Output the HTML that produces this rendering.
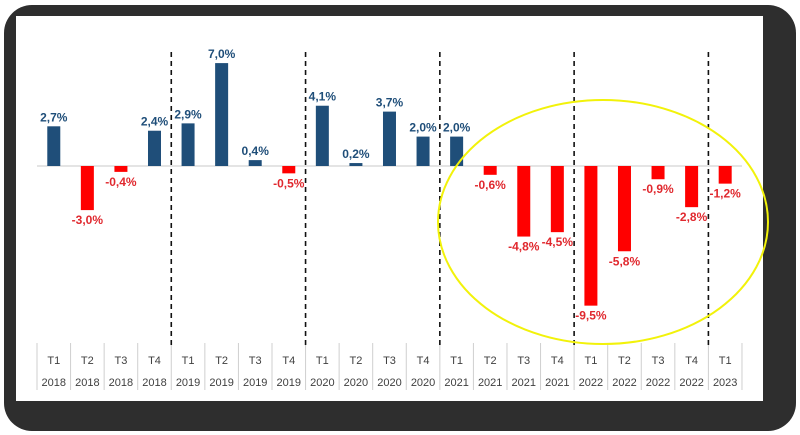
<!DOCTYPE html>
<html><head><meta charset="utf-8"><style>
html,body{margin:0;padding:0;background:#fff;}
svg{display:block;font-family:"Liberation Sans","DejaVu Sans",sans-serif;}
</style></head><body>
<svg id="chart" width="800" height="435" viewBox="0 0 800 435">
  <rect x="4" y="5" width="792" height="426" rx="28" fill="#2e2e2e"/>
  <rect x="16" y="16" width="747" height="385" fill="#ffffff"/>
  <g id="marks"></g>
  <ellipse cx="603" cy="222" rx="165" ry="122" fill="none" stroke="#f2f20a" stroke-width="2"/>
</svg>
<script>
const quarters=["T1","T2","T3","T4","T1","T2","T3","T4","T1","T2","T3","T4","T1","T2","T3","T4","T1","T2","T3","T4","T1"];
const years=["2018","2018","2018","2018","2019","2019","2019","2019","2020","2020","2020","2020","2021","2021","2021","2021","2022","2022","2022","2022","2023"];
const values=[2.7,-3.0,-0.4,2.4,2.9,7.0,0.4,-0.5,4.1,0.2,3.7,2.0,2.0,-0.6,-4.8,-4.5,-9.5,-5.8,-0.9,-2.8,-1.2];
const yearBreaks=[4,8,12,16,20];

const X0=37,W=33.57,Y0=166,K=14.7,BW=13;
const xs=i=>X0+i*W;
const ys=v=>Y0-v*K;
const g=document.getElementById('marks');
const NS="http://www.w3.org/2000/svg";
function mk(t,a){const e=document.createElementNS(NS,t);for(const k in a)e.setAttribute(k,a[k]);g.appendChild(e);return e;}

const base=mk('line',{x1:X0,x2:xs(values.length),y1:Y0,y2:Y0,stroke:'#c8c8c8','stroke-width':1});



for(let i=0;i<=values.length;i++){
  const s=mk('line',{x1:xs(i),x2:xs(i),y1:343,y2:390,stroke:'#cfcfcf','stroke-width':1});
  
  
}
yearBreaks.forEach(b=>{
  const d=mk('line',{x1:xs(b),x2:xs(b),y1:52,y2:345,stroke:'#111','stroke-width':1.6,'stroke-dasharray':'5,4'});
  
  
});
values.forEach((v,i)=>{
  const cx=xs(i)+W/2;
  const pos=v>=0;
  const col=pos?'#1f4e79':'#ff0000';
  const top=Math.min(ys(v),Y0), h=Math.abs(ys(v)-Y0);
  const r=mk('rect',{x:cx-BW/2,y:top,width:BW,height:Math.max(h,1),fill:col});
  
  
  const t=mk('text',{x:cx,y:pos?ys(v)-5:ys(v)+14,'text-anchor':'middle','font-size':12,'font-weight':'bold',fill:pos?'#1f4e79':'#e0282e'});
  t.textContent=(v<0?'-':'')+Math.abs(v).toFixed(1).replace('.',',')+'%';
  
  
  const q=mk('text',{x:cx,y:364,'text-anchor':'middle','font-size':11,fill:'#404040'});
  q.textContent=quarters[i];
  
  
  const yl=mk('text',{x:cx,y:386,'text-anchor':'middle','font-size':11,fill:'#404040'});
  yl.textContent=years[i];
  
  
});
</script>
</body></html>
